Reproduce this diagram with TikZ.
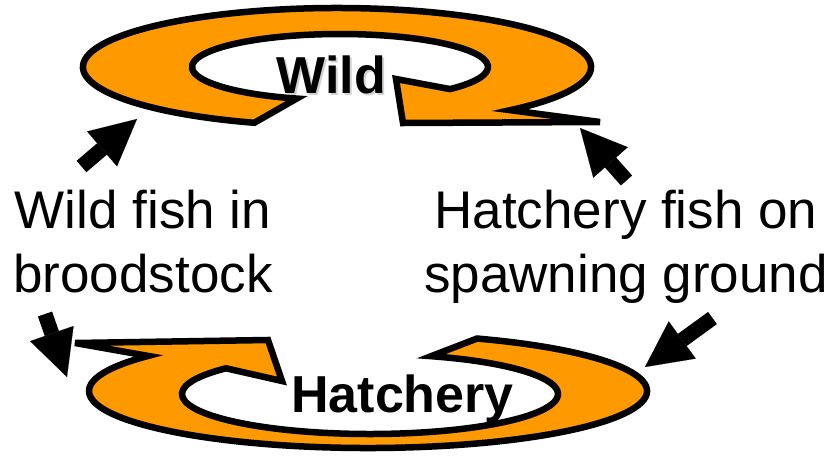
\documentclass[tikz,border=0pt]{standalone}
\usepackage{fontspec}
\setmainfont{Liberation Sans}
\usetikzlibrary{calc,arrows.meta}

\definecolor{ringorange}{RGB}{255,153,0}

\tikzset{
  ring/.style={draw=black, fill=ringorange, line width=6.5pt, line join=miter, miter limit=10},
  blockarrow/.style={draw=black, line width=15pt,
    -{Triangle[length=46pt, width=46pt, line width=0.1pt]}},
  label/.style={font=\fontsize{53}{64}\selectfont, align=center, inner sep=0pt, anchor=base},
  title/.style={font=\fontsize{52}{62}\selectfont\bfseries, inner sep=0pt, anchor=base}
}

\begin{document}
\begin{tikzpicture}[x=1pt, y=-1pt]
  \useasboundingbox (0,0) rectangle (832,461);

  % ellipse centres of the two circular arrows
  \coordinate (wc)  at (337,67);
  \coordinate (wic) at (340,67);
  \coordinate (hc)  at (368,391);
  \coordinate (hic) at (370,394);

  % upper circular arrow ("Wild")
  \draw[ring]
    ($(wc)+(109:254 and 59)$)
      arc[start angle=109, end angle=407, x radius=254, y radius=59]
      -- (600,122) -- (403,123) -- (396,79)
      -- ($(wic)+(42:148 and 33)$)
      arc[start angle=42, end angle=-253, x radius=148, y radius=33]
      -- cycle;

  % lower circular arrow ("Hatchery")
  \draw[ring]
    ($(hc)+(-67:279 and 57)$)
      arc[start angle=-67, end angle=218, x radius=279, y radius=57]
      -- (75,343) -- (268,340) -- (282,381)
      -- ($(hic)+(220:188 and 40)$)
      arc[start angle=220, end angle=-71, x radius=188, y radius=40]
      -- cycle;

  % titles inside the rings (the upper one carries a soft drop shadow)
  \node[title, text=black!35, opacity=0.5] (wildshadow) at (333.5,95.5) {Wild};
  \node[title] (wild) at (331.5,93) {Wild};
  \node[title] (hatchery) at (402.5,412) {Hatchery};

  % side labels (anchored on the baseline of their last line)
  \node[label] (broodstock) at (143,292) {Wild fish in\\broodstock};
  \node[label] (spawning) at (626,292) {Hatchery fish on\\spawning ground};

  % block arrows
  \coordinate (a1t) at (81.5,166.5);  \coordinate (a1h) at (137,119);
  \coordinate (a2t) at (45,314);      \coordinate (a2h) at (67,377);
  \coordinate (a3t) at (626.5,180.5); \coordinate (a3h) at (580,128);
  \coordinate (a4t) at (712.5,318);   \coordinate (a4h) at (645,367);
  \draw[blockarrow] (a1t) -- (a1h);
  \draw[blockarrow] (a2t) -- (a2h);
  \draw[blockarrow] (a3t) -- (a3h);
  \draw[blockarrow] (a4t) -- (a4h);
\end{tikzpicture}
\end{document}
